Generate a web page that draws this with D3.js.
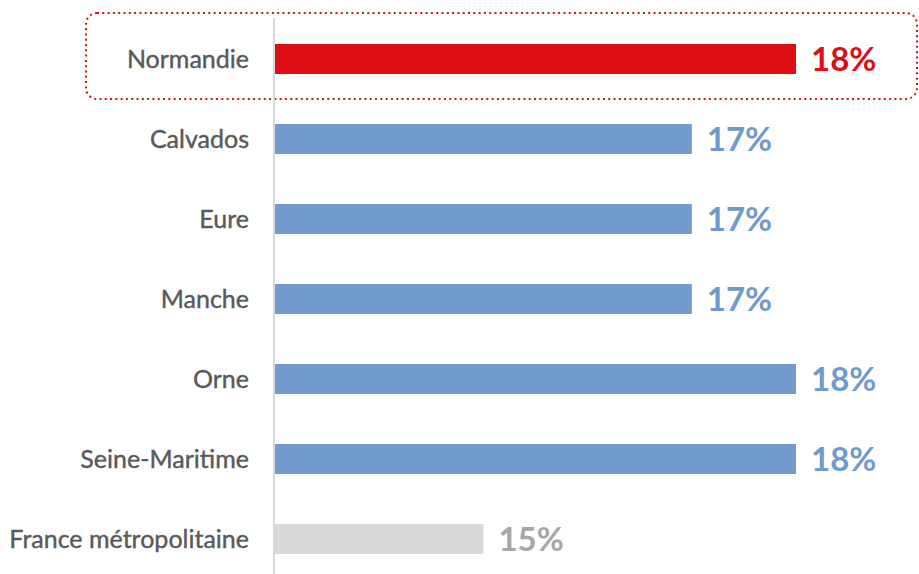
<!DOCTYPE html>
<html>
<head>
    <meta charset="utf-8">
    <title>Normandie</title>
    <script src="https://d3js.org/d3.v7.min.js"></script>
    <style>
        body { margin: 0; background: #fff; font-family: Lato, sans-serif; }
        .cat-label { font-size: 25px; fill: #595959; stroke: #595959; stroke-width: 0.4px; }
        .val-label { font-size: 33px; font-weight: bold; }
    </style>
</head>
<body>
    <svg id="chart" width="919" height="574"></svg>
    <script>
        const categories = ['Normandie', 'Calvados', 'Eure', 'Manche', 'Orne', 'Seine-Maritime', 'France métropolitaine'];
        const values = [18, 17, 17, 17, 18, 18, 15];
        const valueLabels = ['18%', '17%', '17%', '17%', '18%', '18%', '15%'];
        const barColors = ['#dc0e13', '#729acd', '#729acd', '#729acd', '#729acd', '#729acd', '#d9d9d9'];
        const textColors = ['#dc0e13', '#6f9acc', '#6f9acc', '#6f9acc', '#6f9acc', '#6f9acc', '#a6a6a6'];

        const svg = d3.select('#chart');
        const axisX = 275;

        const x = d3.scaleLinear()
            .domain([13, 18])
            .range([axisX, 796]);
        const y = d3.scaleBand()
            .domain(categories)
            .range([19, 579])
            .paddingInner(0.625)
            .paddingOuter(0.3125);

        const rows = categories.map((c, i) => ({
            cat: c, value: values[i], label: valueLabels[i], bar: barColors[i], text: textColors[i]
        }));

        // highlight frame round the first row
        svg.append('rect')
            .attr('x', 86)
            .attr('y', y(categories[0]) - 31)
            .attr('width', 831)
            .attr('height', y.bandwidth() + 56)
            .attr('rx', 11)
            .attr('fill', 'none')
            .attr('stroke', '#dc0e13')
            .attr('stroke-width', 2)
            .attr('stroke-dasharray', '2,3.3');

        // vertical axis line
        svg.append('line')
            .attr('x1', axisX - 1).attr('x2', axisX - 1)
            .attr('y1', 18).attr('y2', 574)
            .attr('stroke', '#d9d9d9')
            .attr('stroke-width', 2);

        svg.selectAll('.bar')
            .data(rows)
            .enter().append('rect')
            .attr('class', 'bar')
            .attr('x', axisX)
            .attr('y', d => y(d.cat))
            .attr('width', d => x(d.value) - axisX)
            .attr('height', y.bandwidth())
            .attr('fill', d => d.bar);

        svg.selectAll('.cat-label')
            .data(rows)
            .enter().append('text')
            .attr('class', 'cat-label')
            .attr('x', 249)
            .attr('y', d => y(d.cat) + y.bandwidth() / 2)
            .attr('dy', '0.35em')
            .attr('text-anchor', 'end')
            .text(d => d.cat);

        svg.selectAll('.val-label')
            .data(rows)
            .enter().append('text')
            .attr('class', 'val-label')
            .attr('x', d => x(d.value) + 15)
            .attr('y', d => y(d.cat) + y.bandwidth() / 2)
            .attr('dy', '0.36em')
            .attr('fill', d => d.text)
            .text(d => d.label);
    </script>
</body>
</html>
